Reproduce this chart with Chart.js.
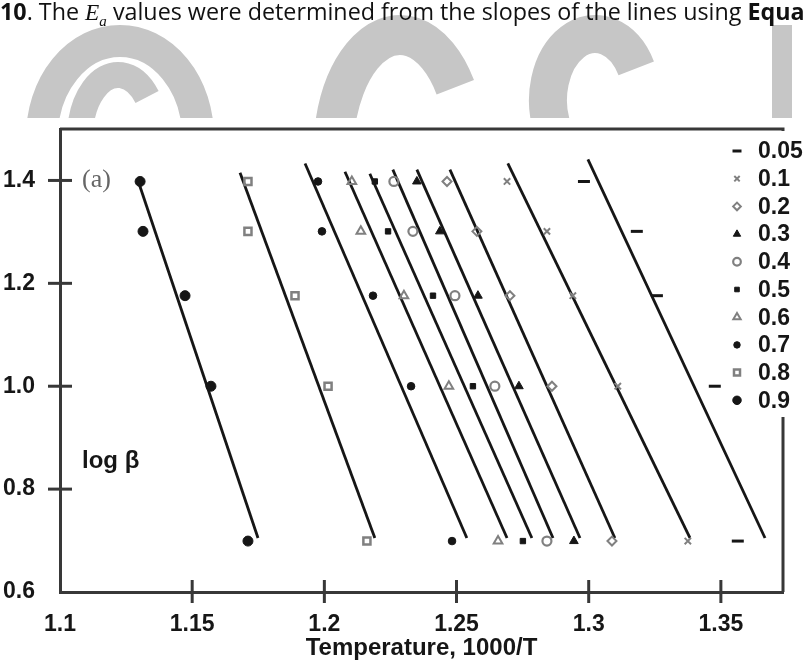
<!DOCTYPE html>
<html>
<head>
<meta charset="utf-8">
<script src="https://cdn.jsdelivr.net/npm/chart.js@4.4.1/dist/chart.umd.min.js"></script>
<style>
  html, body { margin: 0; padding: 0; background: #fff; }
  #wrap { position: relative; width: 804px; height: 667px; overflow: hidden; }
  #hdr {
    position: absolute; left: 0; top: -5px; z-index: 2;
    white-space: nowrap; line-height: 1;
    font: 23.3px 'Open Sans', sans-serif; color: #111;
  }
  #hdr i { font-family: 'Liberation Serif', serif; }
  #hdr sub { font-size: 15px; }
  canvas { position: absolute; left: 0; top: 0; z-index: 1; }
</style>
</head>
<body>
<div id="wrap">
  <div id="hdr"><b>10</b>. The <i>E<sub>a</sub></i> values were determined from the slopes of the lines using <b>Equa</b></div>
  <canvas id="ozawaChart" width="804" height="667"></canvas>
</div>
<script>
Chart.defaults.font.family = "'Liberation Sans', Arial, sans-serif";
Chart.defaults.font.size = 23;
Chart.defaults.font.weight = 'bold';
Chart.defaults.color = '#1c1c1c';

// log of heating rate (rows of points)
const logBeta = [1.398, 1.301, 1.176, 1.0, 0.699];

// conversion levels, legend order
const conversions = ['0.05', '0.1', '0.2', '0.3', '0.4', '0.5', '0.6', '0.7', '0.8', '0.9'];

// 1000/T for each conversion, one value per heating rate
const x005 = [1.2982, 1.3182, 1.3258, 1.3477, 1.3564];
const x01 = [1.2691, 1.2842, 1.2940, 1.3110, 1.3375];
const x02 = [1.2464, 1.2577, 1.2702, 1.2861, 1.3088];
const x03 = [1.2350, 1.2437, 1.2581, 1.2736, 1.2944];
const x04 = [1.2263, 1.2335, 1.2494, 1.2645, 1.2842];
const x05 = [1.2191, 1.2241, 1.2411, 1.2562, 1.2751];
const x06 = [1.2104, 1.2138, 1.2301, 1.2471, 1.2657];
const x07 = [1.1976, 1.1991, 1.2184, 1.2328, 1.2483];
const x08 = [1.1711, 1.1711, 1.1889, 1.2014, 1.2161];
const x09 = [1.1303, 1.1314, 1.1473, 1.1571, 1.1711];

// fitted lines: upper and lower end points
const fitTopX = [1.2997, 1.2694, 1.2475, 1.2350, 1.2259, 1.2172, 1.2078, 1.1927, 1.1681, 1.1295];
const fitTopY = [1.441, 1.433, 1.421, 1.421, 1.421, 1.413, 1.417, 1.433, 1.415, 1.400];
const fitBottomX = [1.3667, 1.3383, 1.3099, 1.2967, 1.2865, 1.2785, 1.2691, 1.2539, 1.2191, 1.1749];
const fitBottomY = [0.705, 0.705, 0.705, 0.705, 0.705, 0.705, 0.705, 0.705, 0.705, 0.705];

// axis ticks
const xTicks = [1.1, 1.15, 1.2, 1.25, 1.3, 1.35];
const xTickLabels = ['1.1', '1.15', '1.2', '1.25', '1.3', '1.35'];
const yTicks = [0.6, 0.8, 1.0, 1.2, 1.4];
const yTickLabels = ['0.6', '0.8', '1.0', '1.2', '1.4'];

const seriesX = [x005, x01, x02, x03, x04, x05, x06, x07, x08, x09];

const palette = {
  ink: '#161616',
  axis: '#383838',
  gray: '#808080',
  watermark: '#c6c6c6',
};

// marker look for each conversion level
const markers = [
  { style: 'line', r: 6, fill: false, color: palette.ink, bw: 3 }, // 0.05
  { style: 'crossRot', r: 4.5, fill: false, color: palette.gray, bw: 2 }, // 0.1
  { style: 'rectRot', r: 4.5, fill: false, color: palette.gray, bw: 2 }, // 0.2
  { style: 'triangle', r: 5, fill: true, color: palette.ink, bw: 1 }, // 0.3
  { style: 'circle', r: 4.5, fill: false, color: palette.gray, bw: 2.2 }, // 0.4
  { style: 'rect', r: 3.8, fill: true, color: palette.ink, bw: 1 }, // 0.5
  { style: 'triangle', r: 5, fill: false, color: palette.gray, bw: 2 }, // 0.6
  { style: 'circle', r: 3.8, fill: true, color: palette.ink, bw: 1 }, // 0.7
  { style: 'rect', r: 5, fill: false, color: palette.gray, bw: 2.5 }, // 0.8
  { style: 'circle', r: 5, fill: true, color: palette.ink, bw: 1 }, // 0.9
];

const datasets = [];
conversions.forEach((c, i) => {
  const m = markers[i];
  datasets.push({
    type: 'scatter',
    label: c,
    data: seriesX[i].map((x, j) => ({ x: x, y: logBeta[j] })),
    pointStyle: m.style,
    pointRadius: m.r,
    pointBorderWidth: m.bw,
    pointBorderColor: m.color,
    pointBackgroundColor: m.fill ? m.color : 'rgba(0,0,0,0)',
    order: 1,
  });
  datasets.push({
    type: 'line',
    label: c + ' fit',
    data: [
      { x: fitTopX[i], y: fitTopY[i] },
      { x: fitBottomX[i], y: fitBottomY[i] },
    ],
    borderColor: palette.ink,
    borderWidth: 2.8,
    pointRadius: 0,
    fill: false,
    order: 2,
  });
});

function strokeLine(ctx, x1, y1, x2, y2) {
  ctx.beginPath();
  ctx.moveTo(x1, y1);
  ctx.lineTo(x2, y2);
  ctx.stroke();
}

const decorations = {
  id: 'decorations',
  beforeDraw(chart) {
    // faint page watermark behind the figure
    const ctx = chart.ctx;
    ctx.save();
    ctx.beginPath();
    ctx.rect(0, 0, 804, 118);
    ctx.clip();
    ctx.strokeStyle = palette.watermark;
    ctx.fillStyle = palette.watermark;
    ctx.lineWidth = 32;
    ctx.beginPath();
    ctx.ellipse(120, 137, 78, 96, 0, 0, Math.PI * 2);
    ctx.stroke();
    ctx.lineWidth = 26;
    ctx.beginPath();
    ctx.ellipse(118, 137, 38, 62, 0, -0.7, 2.4, true);
    ctx.stroke();
    ctx.lineWidth = 40;
    ctx.beginPath();
    ctx.ellipse(400, 155, 67, 120, 0, -0.6, 2.5, true);
    ctx.stroke();
    ctx.lineWidth = 38;
    ctx.beginPath();
    ctx.ellipse(595, 100, 47, 66, 0, -0.5, 2.6, true);
    ctx.stroke();
    ctx.fillRect(772, 25, 20, 100);
    ctx.restore();
  },
  afterDraw(chart) {
    const { ctx, chartArea: a, scales: { x, y } } = chart;
    const H = Chart.helpers;
    ctx.save();
    ctx.strokeStyle = palette.axis;
    ctx.lineWidth = 3;
    // top and right edges of the frame
    ctx.beginPath();
    ctx.moveTo(a.left, a.top);
    ctx.lineTo(a.right, a.top);
    ctx.lineTo(a.right, a.bottom);
    ctx.stroke();
    // tick marks crossing the axes
    y.ticks.forEach((t) => {
      if (t.value === y.min) return;
      const py = y.getPixelForValue(t.value);
      strokeLine(ctx, a.left - 12, py, a.left + 12, py);
    });
    x.ticks.forEach((t) => {
      if (t.value === x.min) return;
      const px = x.getPixelForValue(t.value);
      strokeLine(ctx, px, a.bottom - 12, px, a.bottom + 11);
    });

    // legend panel on the right
    ctx.fillStyle = '#fff';
    ctx.fillRect(724, a.top + 2, 80, 286);
    ctx.font = "bold 23px 'Liberation Sans', Arial, sans-serif";
    ctx.textBaseline = 'middle';
    ctx.textAlign = 'left';
    conversions.forEach((c, i) => {
      const m = markers[i];
      const ly = 151 + i * 27.7;
      ctx.strokeStyle = m.color;
      ctx.fillStyle = m.fill ? m.color : 'rgba(0,0,0,0)';
      ctx.lineWidth = m.bw;
      if (H && H.drawPoint) {
        H.drawPoint(ctx, { pointStyle: m.style, radius: m.style === 'line' ? 4.5 : m.r * 0.85, rotation: 0, borderWidth: m.bw }, 737, ly);
      }
      ctx.fillStyle = palette.ink;
      ctx.fillText(c, 758, ly + 1);
    });

    // panel tag and y label inside the plot
    ctx.fillStyle = '#666';
    ctx.font = "26px 'Liberation Serif', serif";
    ctx.fillText('(a)', 82, 180);
    ctx.fillStyle = palette.ink;
    ctx.font = "bold 24px 'Liberation Sans', Arial, sans-serif";
    ctx.textBaseline = 'alphabetic';
    ctx.fillText('log \u03b2', 82, 468);
    ctx.restore();
  },
};

new Chart(document.getElementById('ozawaChart'), {
  data: { datasets: datasets },
  plugins: [decorations],
  options: {
    responsive: false,
    animation: false,
    devicePixelRatio: 1,
    events: [],
    layout: { padding: { top: 129, right: 21, left: 0, bottom: 0 } },
    plugins: {
      legend: { display: false },
      tooltip: { enabled: false },
    },
    scales: {
      x: {
        type: 'linear',
        position: 'bottom',
        min: 1.1,
        max: 1.3735,
        grid: { display: false },
        border: { display: true, color: palette.axis, width: 3 },
        afterBuildTicks: (s) => { s.ticks = xTicks.map((v) => ({ value: v })); },
        afterFit: (s) => { s.height = 75; },
        ticks: {
          padding: 11,
          autoSkip: false,
          maxRotation: 0,
          color: palette.ink,
          callback: (v, i) => xTickLabels[i],
        },
        title: {
          display: true,
          text: 'Temperature, 1000/T',
          color: palette.ink,
          font: { size: 24, weight: 'bold' },
          padding: { top: 0, bottom: 4 },
        },
      },
      y: {
        type: 'linear',
        min: 0.6,
        max: 1.5,
        grid: { display: false },
        border: { display: true, color: palette.axis, width: 3 },
        afterBuildTicks: (s) => { s.ticks = yTicks.map((v) => ({ value: v })); },
        afterFit: (s) => { s.width = 60; },
        ticks: {
          padding: 17,
          color: palette.ink,
          callback: (v, i) => yTickLabels[i],
        },
      },
    },
  },
});
</script>
</body>
</html>
